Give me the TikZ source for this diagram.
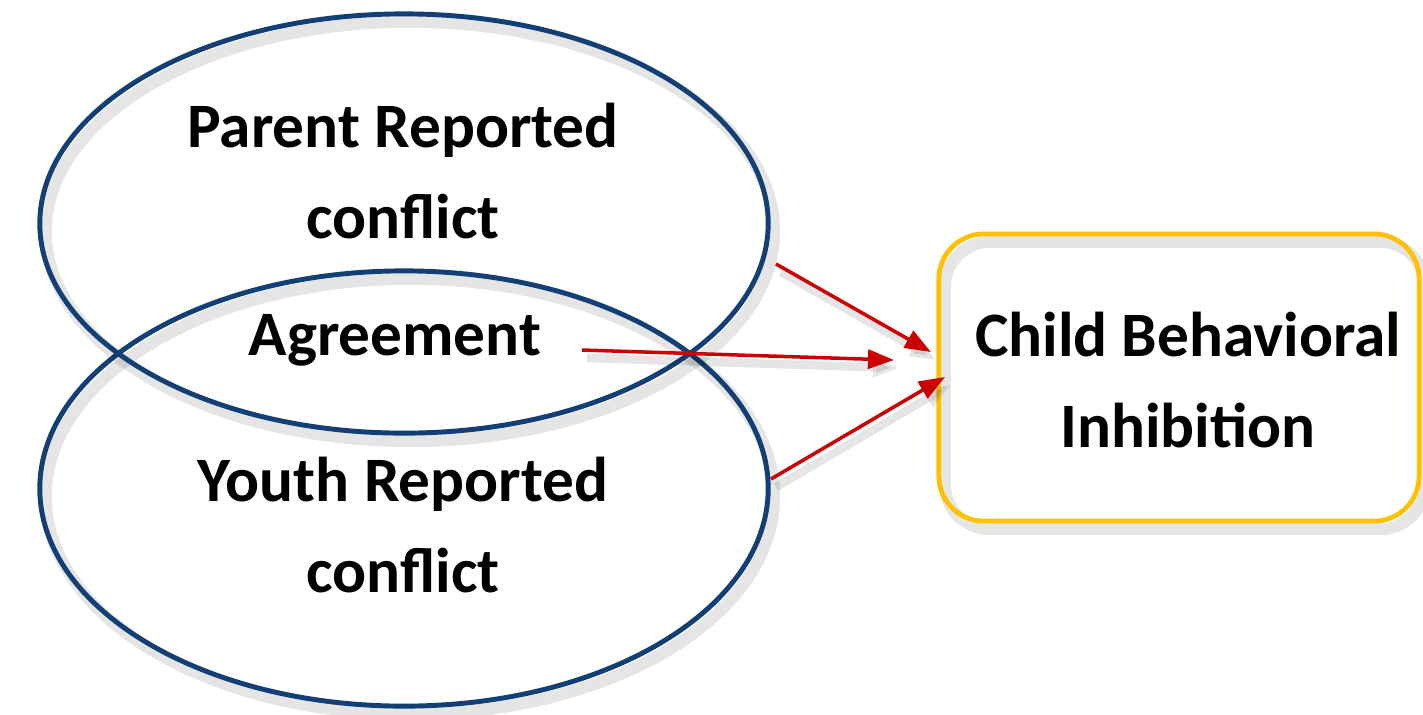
\documentclass[tikz,border=0pt]{standalone}
\usepackage{fontspec}
\setmainfont{Carlito}
\usetikzlibrary{shapes.geometric,arrows.meta}
\definecolor{navy}{HTML}{123F75}
\definecolor{arrowred}{HTML}{CC0000}
\definecolor{gold}{HTML}{FFC000}
\begin{document}
\begin{tikzpicture}[x=0.01cm,y=-0.01cm,
  lbl/.style={font=\fontsize{18}{25.6}\selectfont\bfseries, align=center, inner sep=0pt, anchor=base},
  softshadow/.style={preaction={draw=black, opacity=0.1, line width=3.4pt, transform canvas={shift={(0.6mm,-0.8mm)}}}},
  oval/.style={ellipse, draw=navy, line width=1.4pt, minimum width=7.28cm, softshadow},
  outcome/.style={draw=gold, line width=1.35pt, rounded corners=0.45cm, minimum width=4.80cm, minimum height=2.87cm, softshadow},
  link/.style={draw=arrowred, line width=1pt, -{Triangle[length=0.26cm,width=0.19cm]},
    preaction={draw=black, opacity=0.1, line width=2.4pt, -{Triangle[length=0.26cm,width=0.19cm]}, transform canvas={shift={(0.5mm,-0.8mm)}}}}
]
\useasboundingbox (0,0) rectangle (1423,714);
\node[oval, minimum height=4.35cm] (youth) at (404,488.5) {};
\node[oval, minimum height=4.19cm] (parent) at (404,223.5) {};
\node[outcome] (child) at (1179,377.5) {};
\node[lbl] (ptext) at (403,238) {Parent Reported\\conflict};
\node[lbl] (atext) at (395,355) {Agreement};
\node[lbl] (ytext) at (403,592) {Youth Reported\\conflict};
\node[lbl] (ctext) at (1188,447) {Child Behavioral\\Inhibition};
\coordinate (s1) at (776,264);
\coordinate (e1) at (931,352);
\coordinate (s2) at (582,350);
\coordinate (e2) at (894,360);
\coordinate (s3) at (771,479);
\coordinate (e3) at (945,377);
\draw[link] (s1) -- (e1);
\draw[link] (s2) -- (e2);
\draw[link] (s3) -- (e3);
\end{tikzpicture}
\end{document}
